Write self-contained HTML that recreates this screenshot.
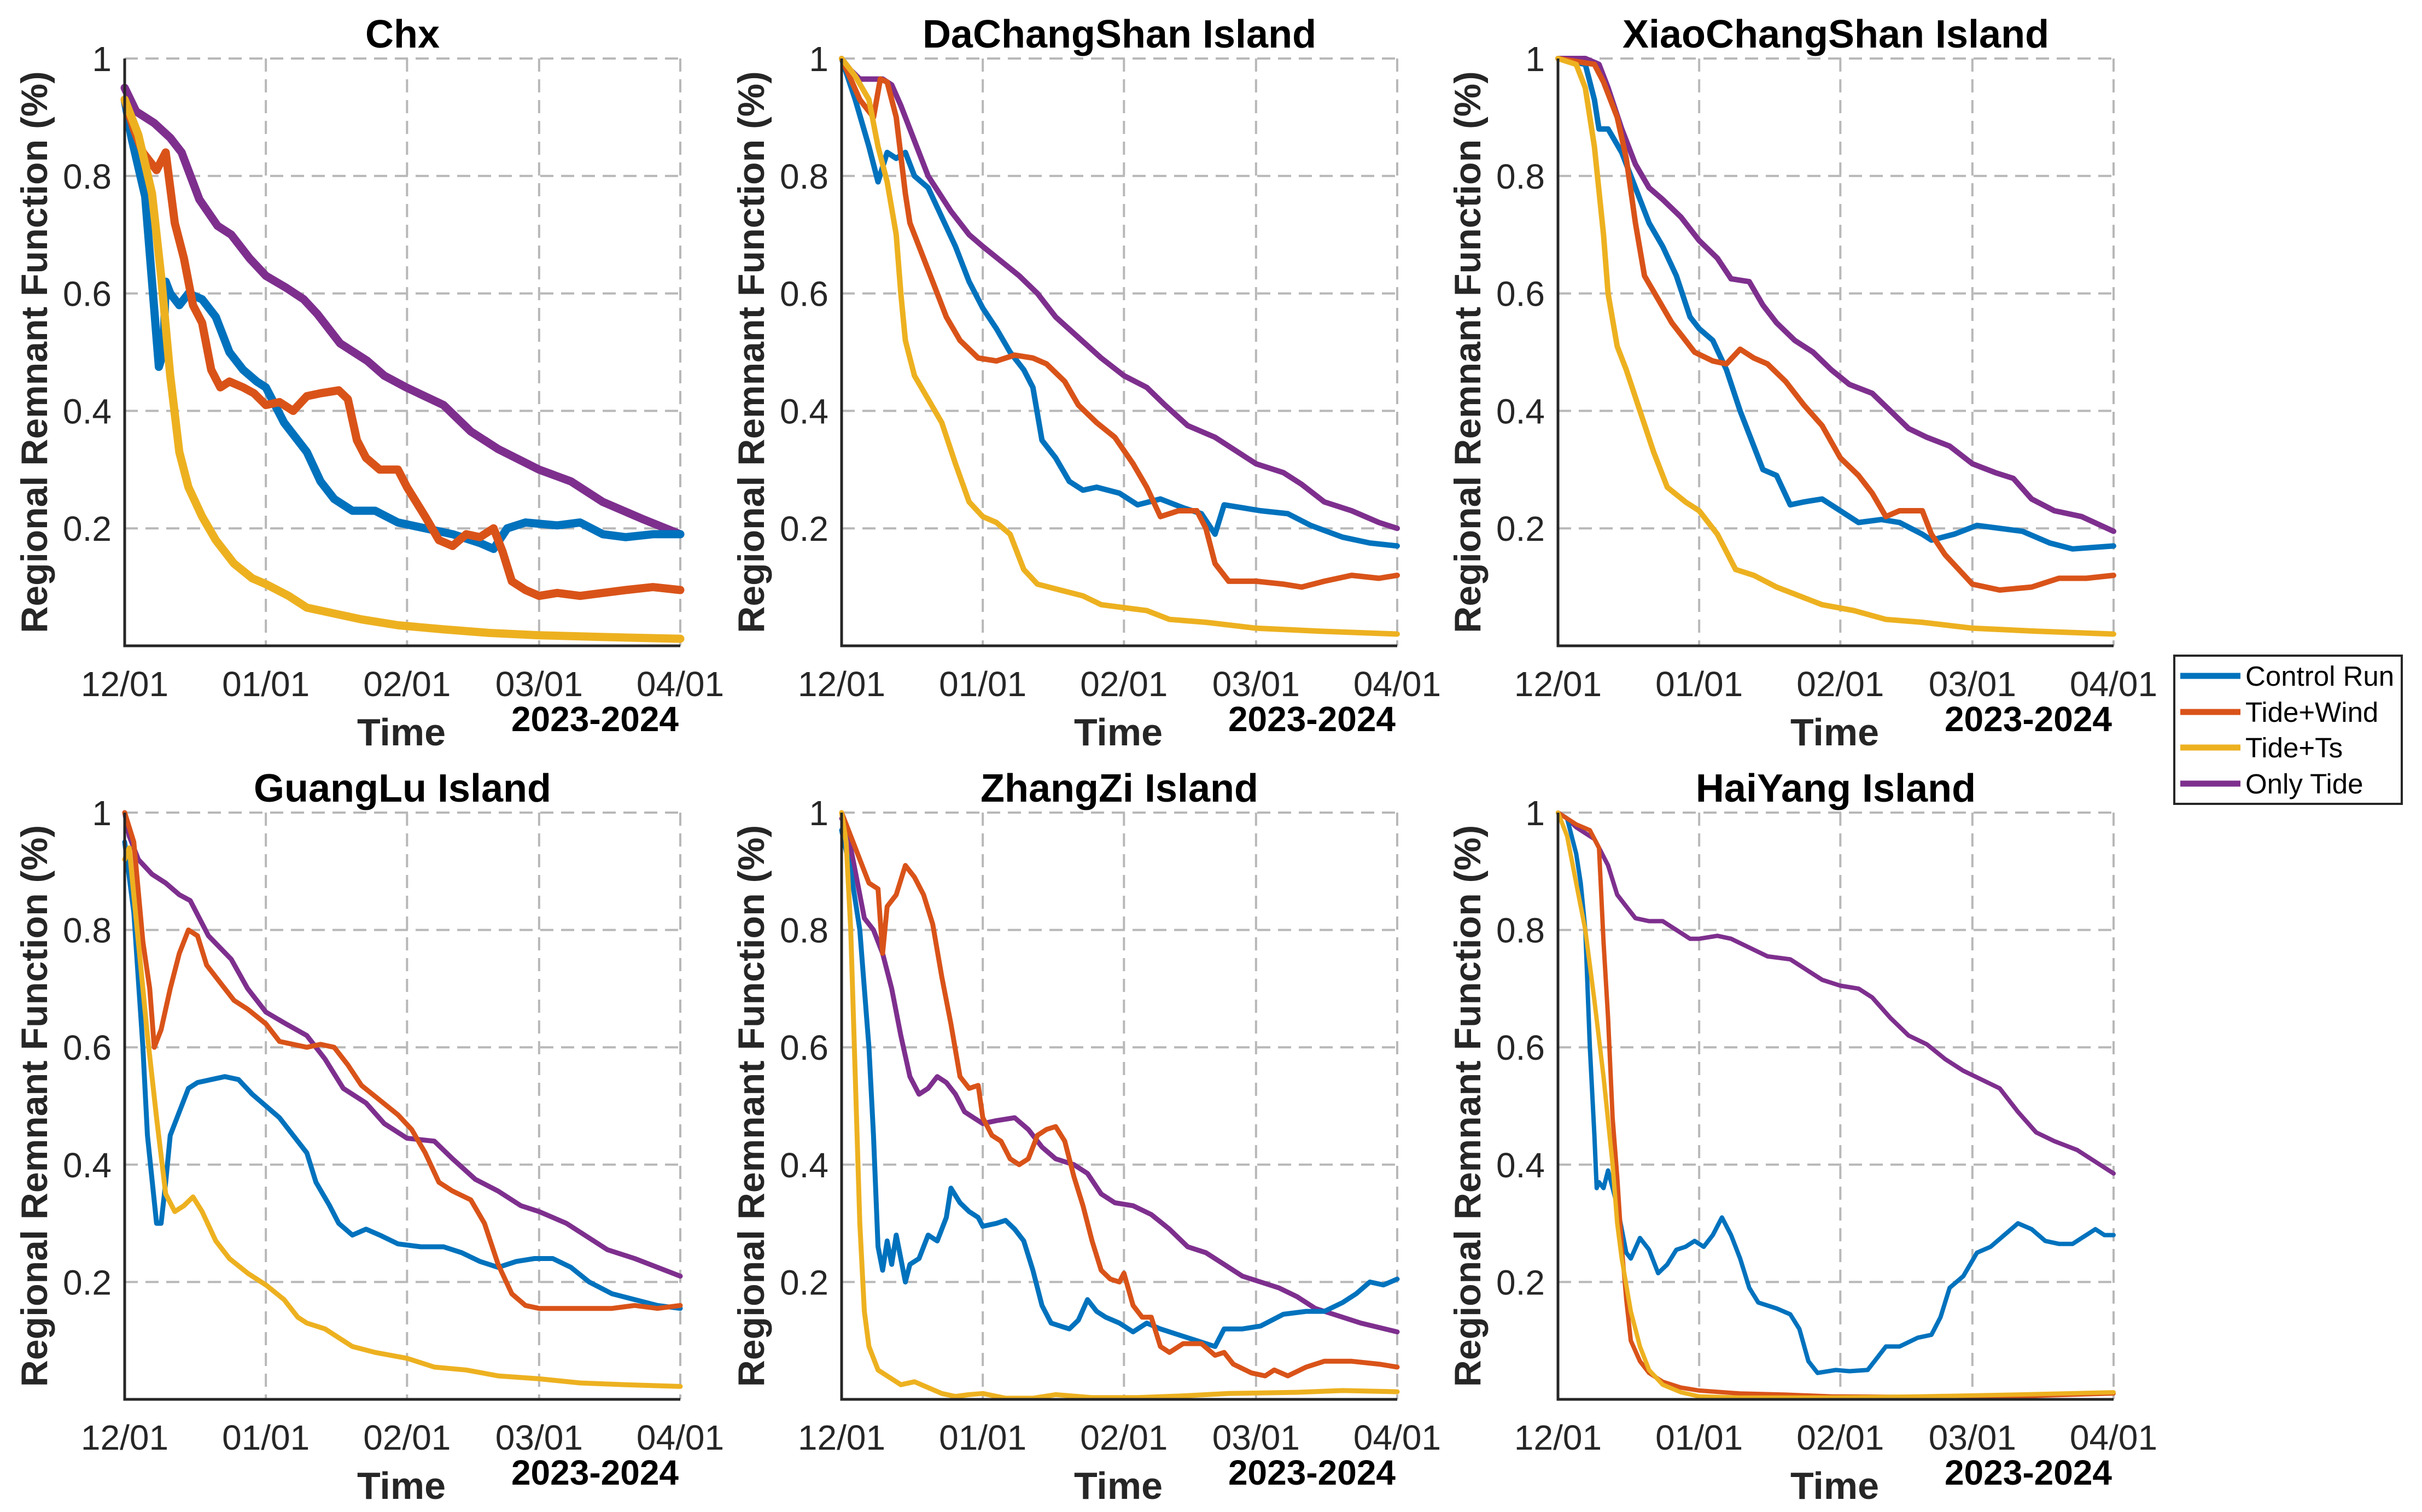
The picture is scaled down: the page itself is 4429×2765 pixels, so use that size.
<!DOCTYPE html>
<html><head><meta charset="utf-8"><style>
html,body{margin:0;padding:0;background:#fff}
svg{display:block}
text{font-family:"Liberation Sans",Arial,sans-serif}
</style></head><body>
<svg id="fig" width="4429" height="2765" viewBox="0 0 4429 2765" xmlns="http://www.w3.org/2000/svg"></svg>
<script>
// x categories: day offset since 12/01; ticks
const xTickDays = [0, 31, 62, 91, 122];
const xTickLabels = ["12/01", "01/01", "02/01", "03/01", "04/01"];
const yTickVals = [0.2, 0.4, 0.6, 0.8, 1];
const yTickLabels = ["0.2", "0.4", "0.6", "0.8", "1"];
const seriesNames = ["Control Run", "Tide+Wind", "Tide+Ts", "Only Tide"];
const panelTitles = ["Chx", "DaChangShan Island", "XiaoChangShan Island", "GuangLu Island", "ZhangZi Island", "HaiYang Island"];

// ---- Chx ----
const chxControl = [[0,.93],[1.5,.865],[4.5,.765],[7.5,.475],[8.5,.5],[9,.62],[10,.6],[12,.58],[14,.6],[17,.59],[20,.56],[23,.5],[26,.47],[29,.45],[31,.44],[35,.38],[40,.33],[43,.28],[46,.25],[50,.23],[55,.23],[60,.21],[66,.2],[72,.19],[78,.175],[81,.165],[84,.2],[88,.21],[95,.205],[100,.21],[105,.19],[110,.185],[116,.19],[122,.19]];
const chxWind = [[0,.93],[2,.88],[4,.84],[7,.81],[9,.84],[11,.72],[13,.66],[15,.58],[17,.55],[19,.47],[21,.44],[23,.45],[26,.44],[28.4,.43],[31,.41],[34,.415],[37,.4],[40,.425],[43,.43],[47,.435],[49,.42],[51,.35],[53,.32],[56,.3],[60,.3],[62,.27],[66,.22],[69,.18],[72,.17],[75,.19],[78,.185],[81,.2],[83,.16],[85,.11],[88,.095],[91,.085],[95,.09],[100,.085],[105,.09],[110,.095],[116,.1],[122,.095]];
const chxTs = [[0,.93],[3,.87],[6,.77],[8,.63],[10,.46],[12,.33],[14,.27],[17,.22],[20,.18],[24,.14],[28,.115],[31,.105],[36,.085],[40,.065],[46,.055],[52,.045],[60,.035],[70,.028],[80,.022],[91,.018],[105,.015],[122,.012]];
const chxTide = [[0,.95],[2.5,.91],[6.5,.89],[10,.865],[12.5,.84],[16.4,.76],[20.4,.715],[23.4,.7],[27.4,.66],[31,.63],[35.4,.61],[39.3,.59],[42.3,.565],[47.3,.515],[53.3,.485],[57,.46],[61.8,.44],[70,.41],[76,.365],[82,.335],[91,.3],[98,.28],[105,.245],[114,.215],[122,.19]];

// ---- DaChangShan ----
const dcsControl = [[0,1],[3,.93],[6,.85],[8,.79],[10,.84],[12,.83],[14,.84],[16,.8],[19,.78],[22,.73],[25,.68],[28,.62],[31,.575],[34,.54],[37,.5],[40,.47],[42,.44],[44,.35],[47,.32],[50,.28],[53,.265],[56,.27],[61,.26],[65,.24],[70,.25],[75,.235],[79,.225],[82,.19],[84,.24],[88,.235],[92,.23],[98,.225],[103,.205],[110,.185],[116,.175],[122,.17]];
const dcsWind = [[0,1],[4,.93],[7,.9],[8.5,.965],[10,.96],[12,.9],[14,.77],[15,.72],[17,.68],[20,.62],[23,.56],[26,.52],[30,.49],[34,.485],[38,.495],[42,.49],[45,.48],[49,.45],[52,.41],[56,.38],[60,.355],[64,.31],[67,.27],[70,.22],[74,.23],[78,.23],[80,.2],[82,.14],[85,.11],[91,.11],[97,.105],[101,.1],[106,.11],[112,.12],[118,.115],[122,.12]];
const dcsTs = [[0,1],[3,.97],[6,.93],[8,.85],[10,.79],[12,.7],[13,.6],[14,.52],[16,.46],[19,.42],[22,.38],[25,.31],[28,.245],[31,.22],[34,.21],[37,.19],[40,.13],[43,.105],[48,.095],[53,.085],[57,.07],[62,.065],[67,.06],[72,.045],[80,.04],[91,.03],[105,.025],[122,.02]];
const dcsTide = [[0,1],[2,.98],[4,.965],[6,.965],[9,.965],[11,.955],[13,.92],[16,.86],[19,.8],[24,.74],[28,.7],[31,.68],[35,.655],[39,.63],[43,.6],[47,.56],[52,.525],[57,.49],[62,.46],[67,.44],[71,.41],[76,.375],[82,.355],[87,.33],[91,.31],[97,.295],[101,.275],[106,.245],[112,.23],[118,.21],[122,.2]];

// ---- XiaoChangShan ----
const xcsControl = [[0,1],[6,.99],[8,.93],[9,.88],[11,.88],[14,.84],[17,.78],[20,.72],[23,.68],[26,.63],[29,.56],[31,.54],[34,.52],[37,.47],[40,.4],[43,.34],[45,.3],[48,.29],[51,.24],[54,.245],[58,.25],[62,.23],[66,.21],[71,.215],[75,.21],[80,.19],[82,.18],[87,.19],[92,.205],[97,.2],[102,.195],[108,.175],[113,.165],[122,.17]];
const xcsWind = [[0,1],[8,.99],[10,.96],[13,.9],[15,.83],[17,.72],[19,.63],[22,.59],[25,.55],[28,.52],[30,.5],[34,.485],[37,.48],[40,.505],[43,.49],[46,.48],[50,.45],[54,.41],[58,.375],[62,.32],[66,.29],[69,.26],[72,.22],[75,.23],[80,.23],[82,.19],[85,.155],[88,.13],[91,.105],[97,.095],[104,.1],[110,.115],[116,.115],[122,.12]];
const xcsTs = [[0,1],[4,.99],[6,.95],[8,.85],[10,.7],[11,.6],[13,.51],[15,.47],[18,.4],[21,.33],[24,.27],[28,.245],[31,.23],[35,.19],[39,.13],[43,.12],[48,.1],[53,.085],[58,.07],[65,.06],[72,.045],[80,.04],[91,.03],[105,.025],[122,.02]];
const xcsTide = [[0,1],[6,1],[9,.99],[11,.95],[14,.88],[17,.82],[20,.78],[23,.76],[27,.73],[31,.69],[35,.66],[38,.625],[42,.62],[45,.58],[48,.55],[52,.52],[56,.5],[60,.47],[64,.445],[69,.43],[73,.4],[77,.37],[81,.355],[86,.34],[91,.31],[96,.295],[100,.285],[104,.25],[109,.23],[115,.22],[122,.195]];

// ---- GuangLu ----
const glControl = [[0,.95],[2,.83],[4,.6],[5,.45],[7,.3],[8,.3],[9,.37],[10,.45],[12,.49],[14,.53],[16,.54],[19,.545],[22,.55],[25,.545],[28,.52],[31,.5],[34,.48],[37,.45],[40,.42],[42,.37],[45,.33],[47,.3],[50,.28],[53,.29],[56,.28],[60,.265],[65,.26],[70,.26],[74,.25],[78,.235],[82,.225],[86,.235],[90,.24],[94,.24],[98,.225],[102,.2],[107,.18],[112,.17],[117,.16],[122,.155]];
const glWind = [[0,1],[2,.95],[4,.78],[5.5,.7],[6.5,.6],[8,.63],[10,.7],[12,.76],[14,.8],[16,.79],[18,.74],[21,.71],[24,.68],[27,.665],[31,.64],[34,.61],[37,.605],[40,.6],[43,.605],[46,.6],[49,.57],[52,.535],[56,.51],[60,.485],[63,.46],[66,.42],[69,.37],[72,.355],[76,.34],[79,.3],[82,.23],[85,.18],[88,.16],[91,.155],[96,.155],[101,.155],[107,.155],[112,.16],[117,.155],[122,.16]];
const glTs = [[0,.92],[1,.94],[3,.78],[5,.62],[7,.48],[9,.35],[11,.32],[13,.33],[15,.345],[17,.32],[20,.27],[23,.24],[27,.215],[31,.195],[35,.17],[38,.14],[40,.13],[44,.12],[50,.09],[55,.08],[62,.07],[68,.055],[75,.05],[82,.04],[91,.035],[100,.028],[110,.025],[122,.022]];
const glTide = [[0,1],[1,.96],[3,.92],[6,.895],[9,.88],[12,.86],[14.4,.85],[18.4,.79],[23.4,.75],[27,.7],[31,.66],[35.4,.64],[40,.62],[44,.58],[48,.53],[53,.505],[57,.47],[62,.445],[68,.44],[72,.41],[77,.375],[82,.355],[87,.33],[91,.32],[97,.3],[102,.275],[106,.255],[112,.24],[122,.21]];

// ---- ZhangZi ----
const zzControl = [[0,.97],[2,.9],[4,.8],[5,.7],[6,.6],[7,.45],[8,.26],[9,.22],[10,.27],[11,.23],[12,.28],[13,.24],[14,.2],[15,.23],[17,.24],[19,.28],[21,.27],[23,.31],[24,.36],[26,.335],[28,.32],[30,.31],[31,.295],[34,.3],[36,.305],[38,.29],[40,.27],[42,.22],[44,.16],[46,.13],[48,.125],[50,.12],[52,.135],[54,.17],[56,.15],[58,.14],[61,.13],[64,.115],[67,.13],[70,.12],[74,.11],[78,.1],[82,.09],[84,.12],[88,.12],[92,.125],[97,.145],[102,.15],[106,.15],[110,.165],[113,.18],[116,.2],[119,.195],[122,.205]];
const zzWind = [[0,1],[2,.96],[4,.92],[6,.88],[8,.87],[9,.76],[10,.84],[12,.86],[14,.91],[16,.89],[18,.86],[20,.81],[22,.72],[24,.64],[26,.55],[28,.53],[30,.535],[31,.48],[33,.45],[35,.44],[37,.41],[39,.4],[41,.41],[43,.45],[45,.46],[47,.465],[49,.44],[51,.38],[53,.33],[55,.27],[57,.22],[59,.205],[61,.2],[62,.215],[64,.16],[66,.14],[68,.14],[70,.09],[72,.08],[75,.095],[79,.095],[82,.075],[84,.08],[86,.06],[90,.045],[93,.04],[95,.05],[98,.04],[102,.055],[106,.065],[112,.065],[118,.06],[122,.055]];
const zzTs = [[0,1],[1,.95],[2,.8],[3,.55],[4,.3],[5,.15],[6,.09],[8,.05],[10,.04],[13,.025],[16,.03],[19,.02],[22,.01],[25,.005],[28,.008],[31,.01],[36,.002],[42,.002],[47,.008],[55,.003],[65,.003],[75,.006],[85,.01],[100,.012],[110,.015],[122,.013]];
const zzTide = [[0,.99],[1,.98],[3,.9],[5,.82],[7,.8],[9,.76],[11,.7],[13,.62],[15,.55],[17,.52],[19,.53],[21,.55],[23,.54],[25,.52],[27,.49],[29,.48],[31,.47],[34,.475],[38,.48],[41,.46],[44,.43],[47,.41],[51,.4],[54,.385],[57,.35],[60,.335],[64,.33],[68,.315],[72,.29],[76,.26],[80,.25],[84,.23],[88,.21],[92,.2],[96,.19],[100,.175],[104,.155],[108,.145],[114,.13],[122,.115]];

// ---- HaiYang ----
const hyControl = [[0,1],[2,.99],[4,.93],[5,.88],[6,.8],[7,.6],[8,.45],[8.5,.36],[9,.37],[10,.36],[11,.39],[13,.33],[15,.25],[16,.24],[18,.275],[20,.255],[22,.215],[24,.23],[26,.255],[28,.26],[30,.27],[32,.26],[34,.28],[36,.31],[38,.28],[40,.24],[42,.19],[44,.165],[48,.155],[51,.145],[53,.12],[55,.065],[57,.045],[61,.05],[64,.048],[68,.05],[70,.07],[72,.09],[75,.09],[79,.105],[82,.11],[84,.14],[86,.19],[89,.21],[92,.25],[95,.26],[98,.28],[101,.3],[104,.29],[107,.27],[110,.265],[113,.265],[116,.28],[118,.29],[120,.28],[122,.28]];
const hyWind = [[0,1],[4,.98],[7,.97],[9,.94],[10,.78],[11,.65],[12,.48],[13,.38],[14,.26],[15,.17],[16,.1],[18,.065],[20,.045],[23,.03],[27,.02],[31,.015],[40,.01],[50,.008],[60,.005],[80,.004],[100,.005],[122,.01]];
const hyTs = [[0,1],[2,.96],[4,.88],[6,.8],[8,.68],[10,.55],[12,.4],[13,.3],[14,.24],[16,.15],[18,.09],[20,.05],[23,.025],[27,.012],[31,.005],[40,.003],[60,.003],[80,.005],[100,.008],[122,.012]];
const hyTide = [[0,1],[2,.99],[4,.975],[6,.965],[8,.955],[9,.94],[11,.91],[13,.86],[15,.84],[17,.82],[20,.815],[23,.815],[26,.8],[29,.785],[31,.785],[35,.79],[38,.785],[42,.77],[46,.755],[51,.75],[55,.73],[58,.715],[62,.705],[66,.7],[69,.685],[73,.65],[77,.62],[81,.605],[85,.58],[89,.56],[93,.545],[97,.53],[101,.49],[105,.455],[109,.44],[114,.425],[119,.4],[122,.385]];

const panelData = [
  [chxControl, chxWind, chxTs, chxTide],
  [dcsControl, dcsWind, dcsTs, dcsTide],
  [xcsControl, xcsWind, xcsTs, xcsTide],
  [glControl, glWind, glTs, glTide],
  [zzControl, zzWind, zzTs, zzTide],
  [hyControl, hyWind, hyTs, hyTide]
];

const colors = ["#0072BD", "#D95319", "#EDB120", "#7E2F8E"];
const NS = "http://www.w3.org/2000/svg";
const svg = document.getElementById("fig");
function mk(tag, attrs, parent) {
  const e = document.createElementNS(NS, tag);
  for (const k in attrs) e.setAttribute(k, attrs[k]);
  (parent || svg).appendChild(e);
  return e;
}
const colLeft = [228, 1539, 2849];
const axW = 1016;
const rowTop = [107, 1486];
const axH = [1074, 1073];
const drawOrder = [3, 0, 1, 2];
const lineW = [15, 10, 10, 9, 9, 8];

panelData.forEach((series, p) => {
  const L = colLeft[p % 3], T = rowTop[Math.floor(p / 3)], H = axH[Math.floor(p / 3)];
  const B = T + H, R = L + axW;
  const xs = d => L + d / 122 * axW;
  const ys = v => B - v * H;
  const g = mk("g", {});
  
  
  xTickDays.forEach((d, i) => {
    if (i === 0) return;
    const gl = mk("line", {x1: xs(d), x2: xs(d), y1: T, y2: B, stroke: "#b8b8b8", "stroke-width": 4, "stroke-dasharray": "24,14"}, g);
    
    
  });
  yTickVals.forEach(v => {
    const gl = mk("line", {x1: L, x2: R, y1: ys(v), y2: ys(v), stroke: "#b8b8b8", "stroke-width": 4, "stroke-dasharray": "24,14"}, g);
    
    
  });
  drawOrder.forEach(s => {
    const pts = series[s].map(([d, v]) => xs(d).toFixed(1) + "," + ys(v).toFixed(1)).join(" ");
    const pl = mk("polyline", {points: pts, fill: "none", stroke: colors[s], "stroke-width": lineW[p], "stroke-linejoin": "round", "stroke-linecap": "round"}, g);
    
    
  });
  const ax = mk("path", {d: `M${L},${T} L${L},${B} L${R},${B}`, fill: "none", stroke: "#262626", "stroke-width": 5}, g);
  
  
  xTickDays.forEach((d, i) => {
    const t = mk("text", {x: xs(d), y: B + 92, "font-size": 64, fill: "#262626", "text-anchor": "middle"}, g);
    t.textContent = xTickLabels[i];
    
    
  });
  yTickVals.forEach((v, i) => {
    const t = mk("text", {x: L - 24, y: ys(v) + 23, "font-size": 64, fill: "#262626", "text-anchor": "end"}, g);
    t.textContent = yTickLabels[i];
    
    
  });
  const title = mk("text", {x: L + axW / 2, y: T - 20, "font-size": 72, "font-weight": "bold", fill: "#000", "text-anchor": "middle"}, g);
  title.textContent = panelTitles[p];
  
  
  const xl = mk("text", {x: L + axW / 2 - 2, y: B + 182, "font-size": 70, "font-weight": "bold", fill: "#262626", "text-anchor": "middle"}, g);
  xl.textContent = "Time";
  
  
  const yr = mk("text", {x: R - 3, y: B + 156, "font-size": 64, "font-weight": "bold", fill: "#000", "text-anchor": "end"}, g);
  yr.textContent = "2023-2024";
  
  
  const cy = T + H / 2, cx = L - 142;
  const yl = mk("text", {x: cx, y: cy, "font-size": 68, "font-weight": "bold", fill: "#262626", "text-anchor": "middle", transform: `rotate(-90 ${cx} ${cy})`}, g);
  yl.textContent = "Regional Remnant Function (%)";
  
  
});

const lg = mk("g", {});


const box = mk("rect", {x: 3976, y: 1199, width: 416, height: 271, fill: "#fff", stroke: "#262626", "stroke-width": 4}, lg);


const legY = [1236, 1302, 1367, 1433];
seriesNames.forEach((n, i) => {
  const ln = mk("line", {x1: 3987, x2: 4097, y1: legY[i], y2: legY[i], stroke: colors[i], "stroke-width": 11}, lg);
  
  
  const t = mk("text", {x: 4106, y: legY[i] + 18, "font-size": 51, fill: "#000"}, lg);
  t.textContent = n;
  
  
});
</script>
</body></html>
